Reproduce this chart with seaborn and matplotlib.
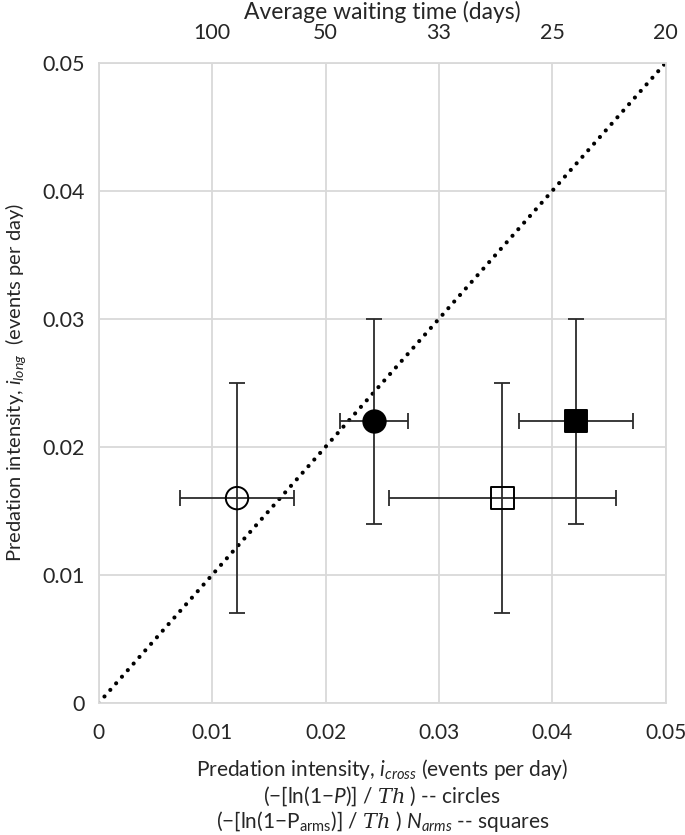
import numpy as np
import pandas as pd
import matplotlib
matplotlib.use("Agg")
import matplotlib.pyplot as plt
import seaborn as sns

# data
i_cross = [0.0122, 0.0243, 0.0356, 0.0421]
i_long = [0.016, 0.022, 0.016, 0.022]
x_err = [0.0050, 0.0030, 0.0100, 0.0050]
y_err = [0.009, 0.008, 0.009, 0.008]
kind = ["open circle", "filled circle", "open square", "filled square"]
ticks = [0, 0.01, 0.02, 0.03, 0.04, 0.05]
tick_labels = ["0", "0.01", "0.02", "0.03", "0.04", "0.05"]
wait_ticks = [0.01, 0.02, 0.03, 0.04, 0.05]
wait_labels = ["100", "50", "33", "25", "20"]
diag = [0, 0.05]

df = pd.DataFrame({"i_cross": i_cross, "i_long": i_long,
                   "x_err": x_err, "y_err": y_err, "kind": kind})

sns.set_style("white")
plt.rcParams["font.family"] = ["Lato", "DejaVu Sans"]
plt.rcParams["mathtext.fontset"] = "custom"
plt.rcParams["mathtext.rm"] = "Lato"
plt.rcParams["mathtext.it"] = "Lato:italic"
plt.rcParams["mathtext.bf"] = "DejaVu Serif:italic"

grid_col = "#d9d9d9"

fig = plt.figure(figsize=(6.85, 8.35), dpi=100)
ax = fig.add_axes([0.144, 0.158, 0.828, 0.767])

ax.set_xlim(0, 0.05)
ax.set_ylim(0, 0.05)
ax.set_xticks(ticks)
ax.set_yticks(ticks)
ax.set_xticklabels(tick_labels, fontsize=15)
ax.set_yticklabels(tick_labels, fontsize=15.5)
ax.grid(True, color=grid_col, lw=1.3)
ax.set_axisbelow(True)
for s in ax.spines.values():
    s.set_color(grid_col)
    s.set_linewidth(1.3)
ax.tick_params(axis="y", length=5, color=grid_col, pad=5)
ax.tick_params(axis="x", length=0, pad=14)

# 1:1 line
ax.plot(diag, diag, color="black", lw=3, linestyle=(0, (0.01, 2.1)),
        dash_capstyle="round", zorder=2)

# error bars
ax.errorbar(df["i_cross"], df["i_long"], xerr=df["x_err"], yerr=df["y_err"],
            fmt="none", ecolor="#2b2b2b", elinewidth=1.3, capsize=6,
            capthick=1.3, zorder=3)

# markers (open ones are hollow, error bars show through)
mk = {"open circle": "o", "filled circle": "o",
      "open square": "s", "filled square": "s"}
fc = {"open circle": "none", "filled circle": "black",
      "open square": "none", "filled square": "black"}
for k in kind:
    sub = df[df["kind"] == k]
    sns.scatterplot(data=sub, x="i_cross", y="i_long", marker=mk[k],
                    facecolor=fc[k], edgecolor="black", linewidth=1.4,
                    s=260, ax=ax, zorder=4, legend=False)
ax.set_xlabel("")
ax.set_ylabel("Predation intensity, $\\mathit{i}_{long}$  (events per day)",
              fontsize=14.5, labelpad=10)

# top axis with waiting time
top = ax.twiny()
top.set_xlim(0, 0.05)
top.set_xticks(wait_ticks)
top.set_xticklabels(wait_labels, fontsize=15.5)
top.tick_params(axis="x", length=0, pad=14)
for s in top.spines.values():
    s.set_visible(False)
top.set_xlabel("Average waiting time (days)", fontsize=16.5, labelpad=3)

cx = 0.144 + 0.828 / 2
fig.text(cx, 0.078, "Predation intensity, $\\mathit{i}_{cross}$ (events per day)",
         ha="center", va="center", fontsize=15)
fig.text(cx, 0.046, "(−[ln(1−$\\mathit{P}$)] / $\\mathbf{Th}$ ) -- circles",
         ha="center", va="center", fontsize=15)
fig.text(cx, 0.016,
         "(−[ln(1−P$_{\\mathrm{arms}}$)] / $\\mathbf{Th}$ ) $\\mathit{N}_{arms}$ -- squares",
         ha="center", va="center", fontsize=15)

fig.savefig("out.png", dpi=100)
